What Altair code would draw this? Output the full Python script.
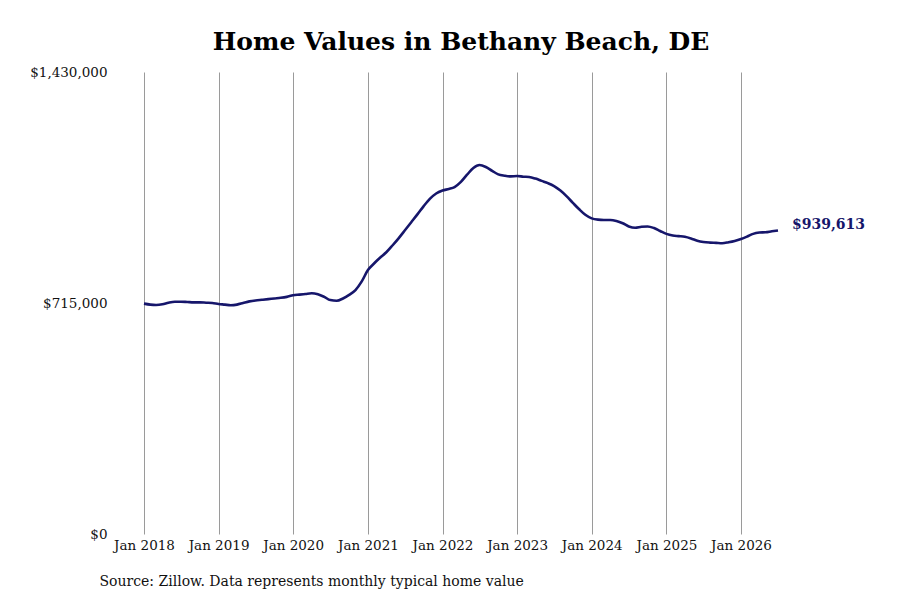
import altair as alt
import pandas as pd

# Monthly typical home value (USD), Jan 2018 .. Jul 2026
v2018 = [713000, 710000, 709000, 711000, 716000, 719000, 719000, 718000, 717000, 717000, 716000, 715000]
v2019 = [712000, 710000, 708000, 710000, 715000, 720000, 723000, 725000, 727000, 729000, 731000, 734000]
v2020 = [739000, 741000, 743000, 745000, 742000, 734000, 724000, 722000, 729000, 740000, 755000, 781000]
v2021 = [817000, 838000, 855000, 872000, 893000, 916000, 940000, 965000, 990000, 1015000, 1038000, 1054000]
v2022 = [1063000, 1068000, 1074000, 1090000, 1112000, 1133000, 1142000, 1136000, 1124000, 1113000, 1109000, 1107000]
v2023 = [1108000, 1106000, 1105000, 1100000, 1093000, 1086000, 1077000, 1063000, 1045000, 1025000, 1005000, 988000]
v2024 = [977000, 973000, 972000, 972000, 969000, 962000, 952000, 948000, 951000, 952000, 947000, 938000]
v2025 = [929000, 924000, 922000, 920000, 915000, 908000, 904000, 902000, 901000, 900000, 903000, 907000]
v2026 = [913000, 921000, 929000, 933000, 934000, 937000, 939613]

values = v2018 + v2019 + v2020 + v2021 + v2022 + v2023 + v2024 + v2025 + v2026
dates = [d.strftime("%Y-%m-%dT00:00:00") for d in pd.date_range("2018-01-01", periods=len(values), freq="MS")]

tick_years = [2018, 2019, 2020, 2021, 2022, 2023, 2024, 2025, 2026]
y_ticks = [0, 715000, 1430000]

title_text = "Home Values in Bethany Beach, DE"
source_text = "Source: Zillow. Data represents monthly typical home value"

df = pd.DataFrame({"date": dates, "value": values})
last = df.iloc[[-1]].copy()
last["label"] = "${:,.0f}".format(values[-1])

navy = "#16166b"
FONT = "DejaVu Serif"

x_enc = alt.X(
    "date:T",
    scale=alt.Scale(domain=[alt.DateTime(year=2018, month=1, date=1),
                            alt.DateTime(year=2026, month=7, date=1)]),
    axis=alt.Axis(
        values=[alt.DateTime(year=y, month=1, date=1) for y in tick_years],
        format="%b %Y", labelOverlap=False, labelFlush=False,
        grid=True, gridColor="#9a9a9a", gridWidth=1,
        domain=False, ticks=False, labelPadding=4,
        labelFont=FONT, labelFontSize=13.5, labelColor="#111111",
        title=source_text, titleFont=FONT, titleFontSize=14, titleFontWeight="normal",
        titleColor="#111111", titleAlign="left", titleAnchor="start",
        titleX=-45, titleY=47, titleBaseline="middle",
    ),
)
y_enc = alt.Y(
    "value:Q",
    scale=alt.Scale(domain=[0, 1430000], nice=False, zero=True),
    axis=alt.Axis(
        values=y_ticks, format="$,.0f", grid=False, domain=False, ticks=False,
        labelOverlap=False, labelFlush=False,
        labelPadding=37, labelFont=FONT, labelFontSize=13.5, labelColor="#111111",
        title=None,
    ),
)

line = alt.Chart(df).mark_line(color=navy, strokeWidth=2.6, interpolate="monotone").encode(
    x=x_enc, y=y_enc
)
label = alt.Chart(last).mark_text(
    align="left", baseline="middle", dx=14, dy=-5, font=FONT, fontSize=14,
    fontWeight="bold", color=navy
).encode(x="date:T", y="value:Q", text="label:N")

chart = (line + label).properties(
    width=634, height=462,
    title=alt.TitleParams(title_text, font=FONT, fontSize=25, fontWeight="bold",
                          color="#000000", anchor="middle", offset=10),
    autosize=alt.AutoSizeParams(type="none"),
    padding={"left": 136, "top": 64, "right": 110, "bottom": 80},
    background="white",
).configure_view(stroke=None)

chart.save("out.html", embed_options={"renderer": "svg", "actions": False})
